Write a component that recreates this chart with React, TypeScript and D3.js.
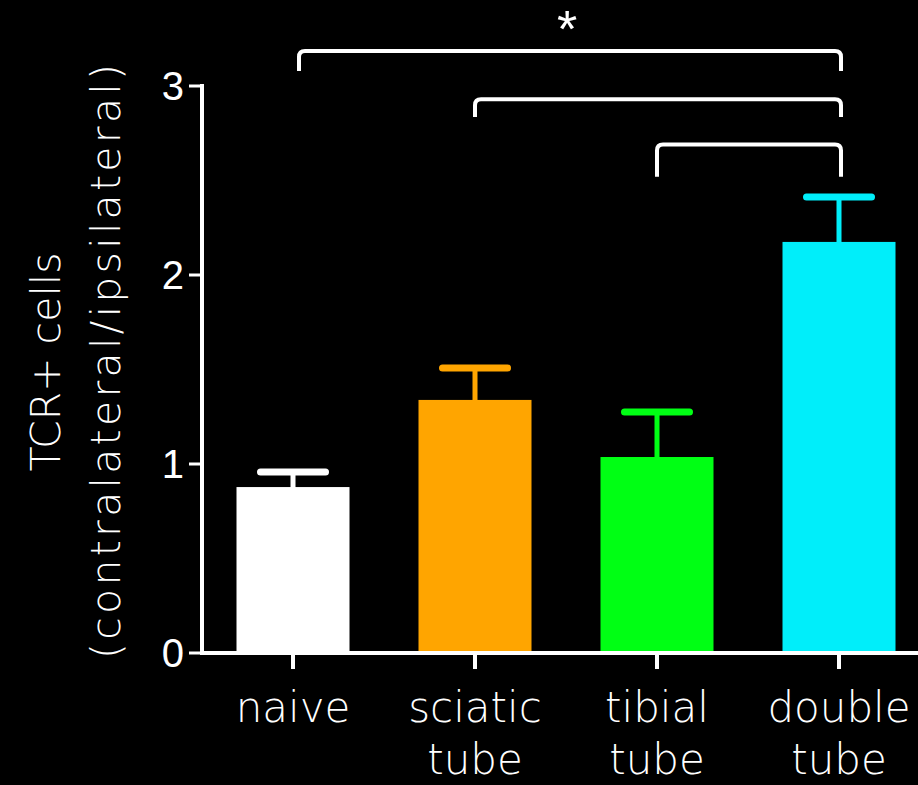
import * as d3 from "d3";

const categories = ["naive", "sciatic tube", "tibial tube", "double tube"];
const means = [0.878, 1.339, 1.037, 2.175];
const errTops = [0.958, 1.508, 1.275, 2.413];
const barColors = ["#ffffff", "#ffa500", "#00ff14", "#00eefa"];
const yTicks = [0, 1, 2, 3];
// brackets: [from index, to index, bar level, leg bottom]
const brackets: [number, number, number, number][] = [
  [0, 3, 3.185, 3.08],
  [1, 3, 2.93, 2.836],
  [2, 3, 2.69, 2.52],
];
const starLabel = "*";

const W = 918;
const H = 785;
const labelFont = "'DejaVu Sans', sans-serif";
const tickFont = "'Liberation Sans', Arial, sans-serif";

export default function App() {
  const y = d3.scaleLinear().domain([0, 3]).range([653, 86]);
  const x = d3.scalePoint<string>().domain(categories).range([293, 839]);
  const barW = 113;
  const capW = 65;
  const axisX = 202;

  const bracketPath = (x1: number, x2: number, yl: number, yb: number) => {
    const r = 6;
    return `M${x1},${yb} L${x1},${yl + r} Q${x1},${yl} ${x1 + r},${yl} L${x2 - r},${yl} Q${x2},${yl} ${x2},${yl + r} L${x2},${yb}`;
  };

  return (
    <svg
      width={W}
      height={H}
      style={{ position: "absolute", left: 0, top: 0, background: "#000" }}
    >
      <rect width={W} height={H} fill="#000" />

      {/* bars */}
      {categories.map((c, i) => {
        const cx = x(c)!;
        return (
          <g key={c}>
            <line
              x1={cx}
              x2={cx}
              y1={y(means[i]) + 2}
              y2={y(errTops[i])}
              stroke={barColors[i]}
              strokeWidth={5}
              strokeLinecap="round"
            />
            <line
              x1={cx - capW / 2}
              x2={cx + capW / 2}
              y1={y(errTops[i])}
              y2={y(errTops[i])}
              stroke={barColors[i]}
              strokeWidth={7}
              strokeLinecap="round"
            />
            <rect
              x={cx - barW / 2}
              y={y(means[i])}
              width={barW}
              height={y(0) - y(means[i])}
              fill={barColors[i]}
            />
          </g>
        );
      })}

      {/* y axis */}
      <line x1={axisX} x2={axisX} y1={y(3) - 2} y2={y(0) + 2} stroke="#fff" strokeWidth={4} />
      {yTicks.map((t) => (
        <g key={t} transform={`translate(0,${y(t)})`}>
          <line x1={axisX - 13} x2={axisX} stroke="#fff" strokeWidth={3} />
          <text
            x={axisX - 18}
            y={14}
            textAnchor="end"
            fill="#fff"
            fontFamily={tickFont}
            fontSize={40}
          >
            {t}
          </text>
        </g>
      ))}

      {/* x axis */}
      <line x1={axisX - 2} x2={W} y1={y(0)} y2={y(0)} stroke="#fff" strokeWidth={4} />
      {categories.map((c) => (
        <g key={c} transform={`translate(${x(c)},0)`}>
          <line y1={y(0)} y2={y(0) + 16} stroke="#fff" strokeWidth={4} />
          {c.split(" ").map((w, j) => (
            <text
              key={j}
              y={722 + j * 52}
              textAnchor="middle"
              fill="#fff"
              fontFamily={labelFont}
              fontWeight={200}
              fontSize={42}
            >
              {w}
            </text>
          ))}
        </g>
      ))}

      {/* y title */}
      <g transform="translate(60,362) rotate(-90)">
        <text textAnchor="middle" fill="#fff" fontFamily={labelFont} fontWeight={200} fontSize={41}>
          TCR+ cells
        </text>
        <text
          x={-297}
          y={60}
          textLength={595}
          lengthAdjust="spacing"
          fill="#fff"
          fontFamily={labelFont}
          fontWeight={200}
          fontSize={41}
        >
          (contralateral/ipsilateral)
        </text>
      </g>

      {/* significance brackets */}
      {brackets.map(([a, b, lvl, leg], i) => (
        <path
          key={i}
          d={bracketPath(x(categories[a])! + (a === 0 ? 6 : 0), x(categories[b])! + 2, y(lvl), y(leg))}
          fill="none"
          stroke="#fff"
          strokeWidth={4}
        />
      ))}
      <text
        x={(x(categories[0])! + x(categories[3])!) / 2 + 1}
        y={y(3.185) - 4}
        textAnchor="middle"
        fill="#fff"
        fontFamily={tickFont}
        fontSize={52}
      >
        {starLabel}
      </text>
    </svg>
  );
}
